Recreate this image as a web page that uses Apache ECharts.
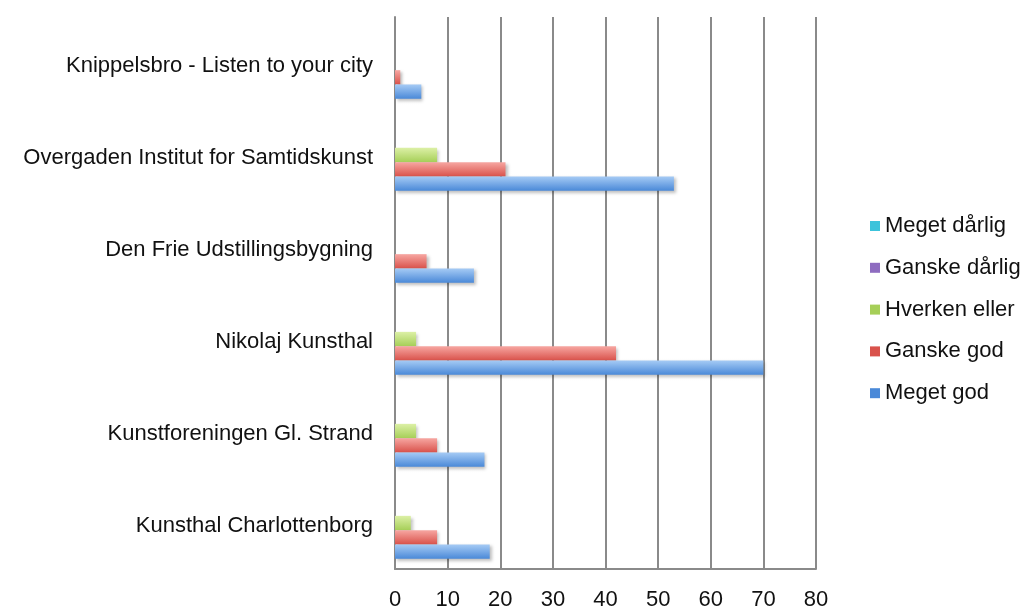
<!DOCTYPE html>
<html><head><meta charset="utf-8">
<script src="https://cdn.jsdelivr.net/npm/echarts@6/dist/echarts.min.js"></script>
<style>html,body{margin:0;padding:0;background:#fff}#c{width:1028px;height:608px}</style>
</head><body><div id="c"></div>
<script>
const categories = ["Knippelsbro - Listen to your city","Overgaden Institut for Samtidskunst","Den Frie Udstillingsbygning","Nikolaj Kunsthal","Kunstforeningen Gl. Strand","Kunsthal Charlottenborg"];
const seriesNames = ["Meget dårlig","Ganske dårlig","Hverken eller","Ganske god","Meget god"];
const megetDarlig = [0,0,0,0,0,0];
const ganskeDarlig = [0,0,0,0,0,0];
const hverkenEller = [0,8,0,4,4,3];
const ganskeGod = [1,21,6,42,8,8];
const megetGod = [5,53,15,70,17,18];
const xTicks = [0,10,20,30,40,50,60,70,80];

const colors = [
  ["#8ee3f0","#3cc3db"],
  ["#c4acdf","#8e6cc0"],
  ["#dcf0a6","#a6cf58"],
  ["#f7a7a2","#d9524b"],
  ["#a6cbf5","#4a89d8"]
];
const values = [megetDarlig, ganskeDarlig, hverkenEller, ganskeGod, megetGod];
const font = "'Liberation Sans', Arial, Helvetica, sans-serif";

const chart = echarts.init(document.getElementById('c'));
chart.setOption({
  animation:false,
  backgroundColor:'#fff',
  grid:{left:395,right:212,top:17,bottom:39,containLabel:false,outerBoundsMode:'none'},
  legend:{
    orient:'vertical', left:865, top:210,
    icon:'rect', itemWidth:10, itemHeight:10, itemGap:19.8, itemTextGap:6,
    textStyle:{fontFamily:font,fontSize:22,color:'#111'},
    data: seriesNames.map((n,i)=>({name:n,itemStyle:{color:colors[i][1]}}))
  },
  xAxis:{
    type:'value', min:xTicks[0], max:xTicks[xTicks.length-1], interval:10,
    axisLine:{show:true,lineStyle:{color:'#8a8a8a',width:2}},
    axisTick:{show:false},
    splitLine:{show:true,lineStyle:{color:'#8a8a8a',width:2}},
    axisLabel:{margin:20,fontFamily:font,fontSize:22,color:'#111'}
  },
  yAxis:{
    type:'category', inverse:true, data:categories,
    axisLine:{show:true,lineStyle:{color:'#8a8a8a',width:2}},
    axisTick:{show:false},
    axisLabel:{margin:22,fontFamily:font,fontSize:22,color:'#111',
      formatter:'{a|{value}}',
      rich:{a:{fontFamily:font,fontSize:22,color:'#111',padding:[6,0,0,0]}}}
  },
  series: seriesNames.map((n,i)=>({
    name:n, type:'bar', data:values[i],
    barWidth:14.3, barGap:'0%',
    itemStyle:{
      color:new echarts.graphic.LinearGradient(0,0,0,1,[{offset:0,color:colors[i][0]},{offset:1,color:colors[i][1]}]),
      shadowBlur:3, shadowColor:'rgba(0,0,0,0.25)', shadowOffsetX:2, shadowOffsetY:2
    }
  }))
});
</script></body></html>
